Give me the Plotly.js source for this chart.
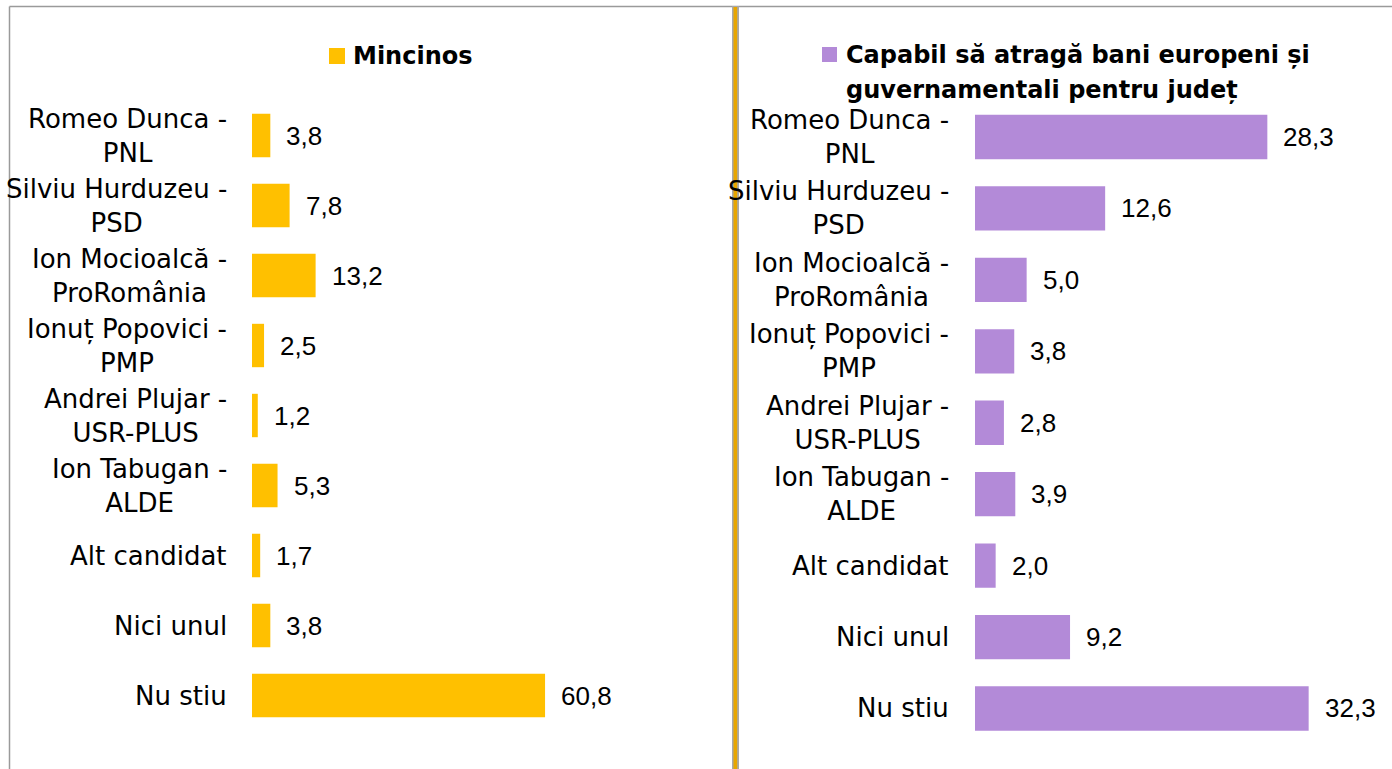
<!DOCTYPE html>
<html>
<head>
<meta charset="utf-8">
<script src="https://cdn.plot.ly/plotly-3.0.1.min.js"></script>
<style>html,body{margin:0;padding:0;background:#fff;}#chart{width:1392px;height:769px;}</style>
</head>
<body>
<div id="chart"></div>
<script>
// ---- data ----
const categories = ['Romeo Dunca -<br>PNL', 'Silviu Hurduzeu -<br>PSD', 'Ion Mocioalcă -<br>ProRomânia', 'Ionuț Popovici -<br>PMP', 'Andrei Plujar -<br>USR-PLUS', 'Ion Tabugan -<br>ALDE', 'Alt candidat', 'Nici unul', 'Nu stiu'];
const mincinos = [3.8, 7.8, 13.2, 2.5, 1.2, 5.3, 1.7, 3.8, 60.8];
const capabil = [28.3, 12.6, 5.0, 3.8, 2.8, 3.9, 2.0, 9.2, 32.3];
const titleLeft = 'Mincinos';
const titleRightLines = ['Capabil să atragă bani europeni și', 'guvernamentali pentru județ'];

// ---- helpers ----
const W = 1392, H = 769;
const px = v => v / W;
const py = v => 1 - v / H;
const fmt = v => v.toFixed(1).replace('.', ',');
const GOLD = '#FFC000', PURPLE = '#B38AD8';
const LABEL_FONT = {family: 'DejaVu Sans', size: 26, color: '#000'};
const VALUE_FONT = {family: 'Liberation Sans', size: 26, color: '#000'};
const TITLE_FONT = {family: 'DejaVu Sans', size: 24, color: '#000'};

const traces = [
  {type: 'bar', orientation: 'h', x: mincinos, y: categories, xaxis: 'x', yaxis: 'y',
   marker: {color: GOLD, line: {width: 0}}, hoverinfo: 'none', showlegend: false},
  {type: 'bar', orientation: 'h', x: capabil, y: categories, xaxis: 'x2', yaxis: 'y2',
   marker: {color: PURPLE, line: {width: 0}}, hoverinfo: 'none', showlegend: false}
];

const annotations = [];
categories.forEach((c, i) => {
  annotations.push({xref: 'paper', x: px(229), xanchor: 'right', yref: 'y', y: c, yanchor: 'middle',
    text: c, align: 'center', showarrow: false, font: LABEL_FONT});
  annotations.push({xref: 'paper', x: px(951), xanchor: 'right', yref: 'y2', y: c, yanchor: 'middle',
    text: c, align: 'center', showarrow: false, font: LABEL_FONT});
  annotations.push({xref: 'x', x: mincinos[i], xanchor: 'left', xshift: 14, yref: 'y', y: c, yanchor: 'middle',
    text: fmt(mincinos[i]), showarrow: false, font: VALUE_FONT});
  annotations.push({xref: 'x2', x: capabil[i], xanchor: 'left', xshift: 14, yref: 'y2', y: c, yanchor: 'middle',
    text: fmt(capabil[i]), showarrow: false, font: VALUE_FONT});
});
annotations.push({xref: 'paper', x: px(351), xanchor: 'left', yref: 'paper', y: py(56), yanchor: 'middle',
  text: '<b>' + titleLeft + '</b>', showarrow: false, font: TITLE_FONT});
annotations.push({xref: 'paper', x: px(844), xanchor: 'left', yref: 'paper', y: py(55), yanchor: 'middle',
  text: '<b>' + titleRightLines[0] + '</b>', showarrow: false, font: TITLE_FONT});
annotations.push({xref: 'paper', x: px(844), xanchor: 'left', yref: 'paper', y: py(90), yanchor: 'middle',
  text: '<b>' + titleRightLines[1] + '</b>', showarrow: false, font: TITLE_FONT});

const shapes = [
  // outer frame
  {type: 'line', xref: 'paper', yref: 'paper', x0: px(9.5), x1: 1, y0: py(6.5), y1: py(6.5), line: {color: '#9a9a9a', width: 1.5}},
  {type: 'line', xref: 'paper', yref: 'paper', x0: px(9.5), x1: px(9.5), y0: py(6.5), y1: 0, line: {color: '#9a9a9a', width: 1.5}},
  // divider
  {type: 'rect', xref: 'paper', yref: 'paper', x0: px(732), x1: px(739), y0: py(6), y1: 0, fillcolor: '#a8a8a8', line: {width: 0}},
  {type: 'rect', xref: 'paper', yref: 'paper', x0: px(733.5), x1: px(737.2), y0: py(7), y1: 0, fillcolor: '#E8A600', line: {width: 0}},
  // legend squares
  {type: 'rect', xref: 'paper', yref: 'paper', x0: px(329), x1: px(345), y0: py(48), y1: py(64), fillcolor: GOLD, line: {width: 0}},
  {type: 'rect', xref: 'paper', yref: 'paper', x0: px(822), x1: px(837), y0: py(47), y1: py(62), fillcolor: PURPLE, line: {width: 0}}
];

const hidden = {showgrid: false, zeroline: false, showticklabels: false, showline: false, ticks: '', fixedrange: true};

const layout = {
  width: W, height: H,
  margin: {l: 0, r: 0, t: 0, b: 0, pad: 0},
  paper_bgcolor: '#fff', plot_bgcolor: 'rgba(0,0,0,0)',
  separators: ', ',
  showlegend: false,
  font: {family: 'DejaVu Sans', color: '#000'},
  xaxis: Object.assign({domain: [px(252), px(725)], range: [0, (725 - 252) / 4.82]}, hidden),
  yaxis: Object.assign({domain: [py(730.5), py(100.5)], type: 'category', categoryorder: 'array', categoryarray: categories,
    range: [categories.length - 0.5, -0.5], anchor: 'x'}, hidden),
  xaxis2: Object.assign({domain: [px(975), px(1390)], range: [0, (1390 - 975) / 10.33], anchor: 'y2'}, hidden),
  yaxis2: Object.assign({domain: [py(744.2), py(101.3)], type: 'category', categoryorder: 'array', categoryarray: categories,
    range: [categories.length - 0.5, -0.5], anchor: 'x2'}, hidden),
  bargap: 0.38,
  annotations: annotations,
  shapes: shapes
};

Plotly.newPlot('chart', traces, layout, {displayModeBar: false, staticPlot: true});
</script>
</body>
</html>
